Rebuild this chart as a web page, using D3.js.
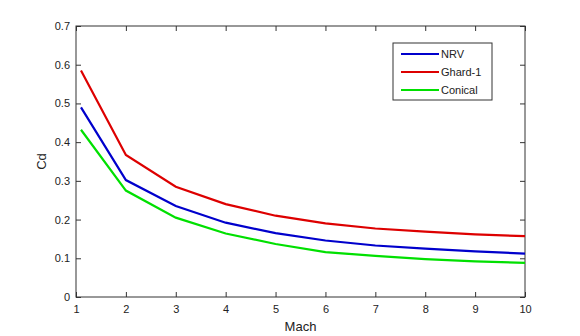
<!DOCTYPE html>
<html><head><meta charset="utf-8">
<script src="https://cdn.jsdelivr.net/npm/d3@7"></script>
<style>body{margin:0;background:#fff}svg{display:block}text{font-family:"Liberation Sans",Arial,sans-serif;fill:#222}</style>
</head><body><svg id="c" width="580" height="336"></svg>
<script>
const mach = [1.1, 2, 3, 4, 5, 6, 7, 8, 9, 10];
const nrv = [0.49, 0.302, 0.235, 0.192, 0.165, 0.146, 0.133, 0.125, 0.118, 0.112];
const ghard = [0.585, 0.367, 0.285, 0.24, 0.21, 0.19, 0.177, 0.169, 0.162, 0.157];
const conical = [0.432, 0.275, 0.205, 0.164, 0.137, 0.116, 0.106, 0.098, 0.092, 0.088];
const seriesNames = ["NRV", "Ghard-1", "Conical"];
const seriesColors = ["#0000cc", "#dd0000", "#00e000"];
const xTicks = [1,2,3,4,5,6,7,8,9,10];
const yTicks = [0,0.1,0.2,0.3,0.4,0.5,0.6,0.7];

const svg = d3.select("#c");
const L=76,R=525,T=26,B=297;
const x = d3.scaleLinear().domain([1,10]).range([L,R]);
const y = d3.scaleLinear().domain([0,0.7]).range([B,T]);
const g = svg.append("g");
const ax = (sel)=>{sel.select(".domain").remove();sel.selectAll("line").attr("stroke","#333");};
g.append("g").attr("transform",`translate(0,${B})`).call(d3.axisBottom(x).tickValues(xTicks).tickSizeInner(-5).tickSizeOuter(0).tickPadding(8).tickFormat(d3.format("d"))).call(ax).selectAll("text").attr("font-size",11).attr("fill","#222");
g.append("g").attr("transform",`translate(${L},0)`).call(d3.axisLeft(y).tickValues(yTicks).tickSizeInner(-5).tickSizeOuter(0).tickPadding(6).tickFormat(d=>d===0?"0":d3.format(".1f")(d))).call(ax).selectAll("text").attr("font-size",11).attr("fill","#222");
g.append("g").attr("transform",`translate(0,${T})`).call(d3.axisTop(x).tickValues(xTicks).tickSizeInner(-5).tickSizeOuter(0).tickFormat("")).call(ax);
g.append("g").attr("transform",`translate(${R},0)`).call(d3.axisRight(y).tickValues(yTicks).tickSizeInner(-5).tickSizeOuter(0).tickFormat("")).call(ax);
g.append("rect").attr("x",L).attr("y",T).attr("width",R-L).attr("height",B-T).attr("fill","none").attr("stroke","#333").attr("stroke-width",1);

const data=[nrv,ghard,conical];
const line=d3.line().x((d,i)=>x(mach[i])).y(d=>y(d));
data.forEach((s,k)=>{
  g.append("path").datum(s).attr("d",line).attr("fill","none").attr("stroke",seriesColors[k]).attr("stroke-width",2.2);
});
svg.append("text").attr("x",(L+R)/2).attr("y",331).attr("text-anchor","middle").attr("font-size",13).text("Mach");
svg.append("text").attr("transform",`translate(46,${(T+B)/2}) rotate(-90)`).attr("text-anchor","middle").attr("font-size",13).text("Cd");

const lg=svg.append("g");
lg.append("rect").attr("x",393).attr("y",43).attr("width",99).attr("height",57).attr("fill","#fff").attr("stroke","#333");
seriesNames.forEach((n,k)=>{
  const yy=54+k*18;
  lg.append("line").attr("x1",401).attr("x2",439).attr("y1",yy).attr("y2",yy).attr("stroke",seriesColors[k]).attr("stroke-width",2);
  lg.append("text").attr("x",441).attr("y",yy+4).attr("font-size",11).text(n);
});
</script></body></html>
